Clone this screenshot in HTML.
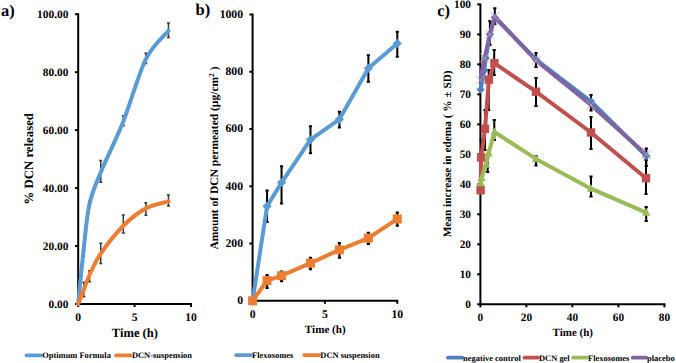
<!DOCTYPE html>
<html><head><meta charset="utf-8"><style>
html,body{margin:0;padding:0;background:#fff;overflow:hidden;}
svg{display:block;}
text{font-family:"Liberation Serif", serif;font-weight:bold;fill:#000;text-rendering:geometricPrecision;}
</style></head><body>
<svg width="676" height="363" viewBox="0 0 676 363">
<path d="M78.2,13.2 V305.0 M78.2,304.0 H192.0" stroke="#000" stroke-width="2" fill="none"/>
<path d="M75.0,304.00 H78.2" stroke="#000" stroke-width="2" fill="none"/>
<text x="68.4" y="307.50" font-size="11.4" text-anchor="end" >0.00</text>
<path d="M75.0,246.04 H78.2" stroke="#000" stroke-width="2" fill="none"/>
<text x="68.4" y="249.54" font-size="11.4" text-anchor="end" >20.00</text>
<path d="M75.0,188.08 H78.2" stroke="#000" stroke-width="2" fill="none"/>
<text x="68.4" y="191.58" font-size="11.4" text-anchor="end" >40.00</text>
<path d="M75.0,130.12 H78.2" stroke="#000" stroke-width="2" fill="none"/>
<text x="68.4" y="133.62" font-size="11.4" text-anchor="end" >60.00</text>
<path d="M75.0,72.16 H78.2" stroke="#000" stroke-width="2" fill="none"/>
<text x="68.4" y="75.66" font-size="11.4" text-anchor="end" >80.00</text>
<path d="M75.0,14.20 H78.2" stroke="#000" stroke-width="2" fill="none"/>
<text x="68.4" y="17.70" font-size="11.4" text-anchor="end" >100.00</text>
<path d="M78.20,304.0 V307.0" stroke="#000" stroke-width="2" fill="none"/>
<text x="78.20" y="321.1" font-size="11.6" text-anchor="middle" >0</text>
<path d="M134.60,304.0 V307.0" stroke="#000" stroke-width="2" fill="none"/>
<text x="134.60" y="321.1" font-size="11.6" text-anchor="middle" >5</text>
<path d="M191.00,304.0 V307.0" stroke="#000" stroke-width="2" fill="none"/>
<text x="191.00" y="321.1" font-size="11.6" text-anchor="middle" >10</text>
<text x="134.9" y="336.7" font-size="12.56" text-anchor="middle" >Time (h)</text>
<text x="0" y="0" font-size="12.8" text-anchor="middle" transform="translate(33,158.8) rotate(-90)">% DCN released</text>
<text x="1.0" y="15.5" font-size="16.5" text-anchor="start" >a)</text>
<path d="M83.84,250.39 V256.18 M82.34,250.39 H85.34 M82.34,256.18 H85.34" stroke="#3a3a3a" stroke-width="1.5" fill="none"/>
<path d="M89.48,201.12 V205.47 M87.98,201.12 H90.98 M87.98,205.47 H90.98" stroke="#3a3a3a" stroke-width="1.5" fill="none"/>
<path d="M100.76,160.55 V182.28 M99.26,160.55 H102.26 M99.26,182.28 H102.26" stroke="#3a3a3a" stroke-width="1.5" fill="none"/>
<path d="M123.32,115.63 V125.77 M121.82,115.63 H124.82 M121.82,125.77 H124.82" stroke="#3a3a3a" stroke-width="1.5" fill="none"/>
<path d="M145.88,53.32 V63.47 M144.38,53.32 H147.38 M144.38,63.47 H147.38" stroke="#3a3a3a" stroke-width="1.5" fill="none"/>
<path d="M168.44,22.89 V37.38 M166.94,22.89 H169.94 M166.94,37.38 H169.94" stroke="#3a3a3a" stroke-width="1.5" fill="none"/>
<path d="M83.84,282.26 V296.75 M82.34,282.26 H85.34 M82.34,296.75 H85.34" stroke="#3a3a3a" stroke-width="1.5" fill="none"/>
<path d="M89.48,270.67 V281.69 M87.98,270.67 H90.98 M87.98,281.69 H90.98" stroke="#3a3a3a" stroke-width="1.5" fill="none"/>
<path d="M100.76,243.14 V263.43 M99.26,243.14 H102.26 M99.26,263.43 H102.26" stroke="#3a3a3a" stroke-width="1.5" fill="none"/>
<path d="M123.32,215.03 V233.00 M121.82,215.03 H124.82 M121.82,233.00 H124.82" stroke="#3a3a3a" stroke-width="1.5" fill="none"/>
<path d="M145.88,202.86 V215.32 M144.38,202.86 H147.38 M144.38,215.32 H147.38" stroke="#3a3a3a" stroke-width="1.5" fill="none"/>
<path d="M168.44,195.04 V206.05 M166.94,195.04 H169.94 M166.94,206.05 H169.94" stroke="#3a3a3a" stroke-width="1.5" fill="none"/>
<path d="M78.20,304.00 C79.14,294.58 81.96,264.15 83.84,247.49 C85.72,230.83 86.66,216.58 89.48,204.02 C92.30,191.46 95.12,185.91 100.76,172.14 C106.40,158.38 115.80,140.26 123.32,121.43 C130.84,102.59 138.36,74.24 145.88,59.12 C153.40,44.00 164.68,35.45 168.44,30.72" stroke="#5B9BD5" stroke-width="4.0" fill="none" stroke-linecap="round" stroke-linejoin="round"/>
<path d="M78.20,304.00 C79.14,301.58 81.96,294.34 83.84,289.51 C85.72,284.68 86.66,281.01 89.48,275.02 C92.30,269.03 95.12,261.79 100.76,253.57 C106.40,245.36 115.80,233.29 123.32,225.75 C130.84,218.22 138.36,212.42 145.88,208.37 C153.40,204.31 164.68,202.57 168.44,201.41" stroke="#ED7D31" stroke-width="4.0" fill="none" stroke-linecap="round" stroke-linejoin="round"/>
<path d="M26.5,355.4 H41" stroke="#5B9BD5" stroke-width="3.8" stroke-linecap="round"/>
<text x="42.2" y="358.2" font-size="8.45" text-anchor="start" >Optimum Formula</text>
<path d="M116.2,355.4 H130.5" stroke="#ED7D31" stroke-width="3.8" stroke-linecap="round"/>
<text x="131.9" y="358.2" font-size="8.45" text-anchor="start" >DCN-suspension</text>
<path d="M252.6,13.5 V301.8 M252.6,300.8 H398.3" stroke="#000" stroke-width="2" fill="none"/>
<path d="M249.4,300.80 H252.6" stroke="#000" stroke-width="2" fill="none"/>
<text x="243.0" y="304.20" font-size="11.7" text-anchor="end" >0</text>
<path d="M249.4,243.54 H252.6" stroke="#000" stroke-width="2" fill="none"/>
<text x="243.0" y="246.94" font-size="11.7" text-anchor="end" >200</text>
<path d="M249.4,186.28 H252.6" stroke="#000" stroke-width="2" fill="none"/>
<text x="243.0" y="189.68" font-size="11.7" text-anchor="end" >400</text>
<path d="M249.4,129.02 H252.6" stroke="#000" stroke-width="2" fill="none"/>
<text x="243.0" y="132.42" font-size="11.7" text-anchor="end" >600</text>
<path d="M249.4,71.76 H252.6" stroke="#000" stroke-width="2" fill="none"/>
<text x="243.0" y="75.16" font-size="11.7" text-anchor="end" >800</text>
<path d="M249.4,14.50 H252.6" stroke="#000" stroke-width="2" fill="none"/>
<text x="243.0" y="17.90" font-size="11.7" text-anchor="end" >1000</text>
<path d="M252.60,300.8 V303.8" stroke="#000" stroke-width="2" fill="none"/>
<text x="252.60" y="317.8" font-size="11.7" text-anchor="middle" >0</text>
<path d="M324.95,300.8 V303.8" stroke="#000" stroke-width="2" fill="none"/>
<text x="324.95" y="317.8" font-size="11.7" text-anchor="middle" >5</text>
<path d="M397.30,300.8 V303.8" stroke="#000" stroke-width="2" fill="none"/>
<text x="397.30" y="317.8" font-size="11.7" text-anchor="middle" >10</text>
<text x="325.25" y="333.2" font-size="11.1" text-anchor="middle" >Time (h)</text>
<text x="0" y="0" font-size="11.5" text-anchor="middle" transform="translate(217.8,158) rotate(-90)">Amount of DCN permeated (µg/cm<tspan font-size="7.5" dy="-4.2">2</tspan><tspan dy="4.2"> )</tspan></text>
<text x="195.6" y="14.8" font-size="16.5" text-anchor="start" >b)</text>
<path d="M267.07,190.57 V222.07 M265.47,190.57 H268.67 M265.47,222.07 H268.67" stroke="#000" stroke-width="2.0" fill="none"/>
<path d="M281.54,166.24 V203.46 M279.94,166.24 H283.14 M279.94,203.46 H283.14" stroke="#000" stroke-width="2.0" fill="none"/>
<path d="M310.48,126.16 V153.36 M308.88,126.16 H312.08 M308.88,153.36 H312.08" stroke="#000" stroke-width="2.0" fill="none"/>
<path d="M339.42,111.84 V127.59 M337.82,111.84 H341.02 M337.82,127.59 H341.02" stroke="#000" stroke-width="2.0" fill="none"/>
<path d="M368.36,55.15 V81.78 M366.76,55.15 H369.96 M366.76,81.78 H369.96" stroke="#000" stroke-width="2.0" fill="none"/>
<path d="M397.30,31.68 V56.87 M395.70,31.68 H398.90 M395.70,56.87 H398.90" stroke="#000" stroke-width="2.0" fill="none"/>
<path d="M267.07,275.03 V287.92 M265.47,275.03 H268.67 M265.47,287.92 H268.67" stroke="#000" stroke-width="2.0" fill="none"/>
<path d="M281.54,271.60 V281.33 M279.94,271.60 H283.14 M279.94,281.33 H283.14" stroke="#000" stroke-width="2.0" fill="none"/>
<path d="M310.48,257.86 V269.31 M308.88,257.86 H312.08 M308.88,269.31 H312.08" stroke="#000" stroke-width="2.0" fill="none"/>
<path d="M339.42,242.97 V257.86 M337.82,242.97 H341.02 M337.82,257.86 H341.02" stroke="#000" stroke-width="2.0" fill="none"/>
<path d="M368.36,232.66 V244.11 M366.76,232.66 H369.96 M366.76,244.11 H369.96" stroke="#000" stroke-width="2.0" fill="none"/>
<path d="M397.30,212.62 V225.79 M395.70,212.62 H398.90 M395.70,225.79 H398.90" stroke="#000" stroke-width="2.0" fill="none"/>
<path d="M252.60,300.80 L267.07,206.32 L281.54,182.56 L310.48,139.61 L339.42,119.29 L368.36,68.32 L397.30,43.42" stroke="#5B9BD5" stroke-width="4.0" fill="none" stroke-linejoin="round"/>
<path d="M252.60,300.80 L267.07,280.62 L281.54,275.69 L310.48,263.12 L339.42,249.84 L368.36,238.10 L397.30,218.92" stroke="#ED7D31" stroke-width="4.0" fill="none" stroke-linejoin="round"/>
<path d="M252.60,296.20 L257.20,300.80 L252.60,305.40 L248.00,300.80Z" fill="#5B9BD5"/>
<path d="M267.07,201.72 L271.67,206.32 L267.07,210.92 L262.47,206.32Z" fill="#5B9BD5"/>
<path d="M281.54,177.96 L286.14,182.56 L281.54,187.16 L276.94,182.56Z" fill="#5B9BD5"/>
<path d="M310.48,135.01 L315.08,139.61 L310.48,144.21 L305.88,139.61Z" fill="#5B9BD5"/>
<path d="M339.42,114.69 L344.02,119.29 L339.42,123.89 L334.82,119.29Z" fill="#5B9BD5"/>
<path d="M368.36,63.72 L372.96,68.32 L368.36,72.92 L363.76,68.32Z" fill="#5B9BD5"/>
<path d="M397.30,38.82 L401.90,43.42 L397.30,48.02 L392.70,43.42Z" fill="#5B9BD5"/>
<rect x="248.10" y="296.30" width="9.0" height="9.0" fill="#ED7D31"/>
<rect x="262.57" y="276.12" width="9.0" height="9.0" fill="#ED7D31"/>
<rect x="277.04" y="271.19" width="9.0" height="9.0" fill="#ED7D31"/>
<rect x="305.98" y="258.62" width="9.0" height="9.0" fill="#ED7D31"/>
<rect x="334.92" y="245.34" width="9.0" height="9.0" fill="#ED7D31"/>
<rect x="363.86" y="233.60" width="9.0" height="9.0" fill="#ED7D31"/>
<rect x="392.80" y="214.42" width="9.0" height="9.0" fill="#ED7D31"/>
<path d="M236,355.1 H251" stroke="#5B9BD5" stroke-width="3.8" stroke-linecap="round"/>
<text x="252.0" y="357.9" font-size="8.45" text-anchor="start" >Flexosomes</text>
<path d="M304.3,355.1 H319.2" stroke="#ED7D31" stroke-width="3.8" stroke-linecap="round"/>
<text x="320.3" y="357.9" font-size="8.45" text-anchor="start" >DCN suspension</text>
<path d="M480.4,3.4000000000000004 V305.3 M480.4,304.3 H665.4" stroke="#000" stroke-width="2" fill="none"/>
<path d="M477.2,304.30 H480.4" stroke="#000" stroke-width="2" fill="none"/>
<text x="471.0" y="308.10" font-size="11.3" text-anchor="end" >0</text>
<path d="M477.2,274.31 H480.4" stroke="#000" stroke-width="2" fill="none"/>
<text x="471.0" y="278.11" font-size="11.3" text-anchor="end" >10</text>
<path d="M477.2,244.32 H480.4" stroke="#000" stroke-width="2" fill="none"/>
<text x="471.0" y="248.12" font-size="11.3" text-anchor="end" >20</text>
<path d="M477.2,214.33 H480.4" stroke="#000" stroke-width="2" fill="none"/>
<text x="471.0" y="218.13" font-size="11.3" text-anchor="end" >30</text>
<path d="M477.2,184.34 H480.4" stroke="#000" stroke-width="2" fill="none"/>
<text x="471.0" y="188.14" font-size="11.3" text-anchor="end" >40</text>
<path d="M477.2,154.35 H480.4" stroke="#000" stroke-width="2" fill="none"/>
<text x="471.0" y="158.15" font-size="11.3" text-anchor="end" >50</text>
<path d="M477.2,124.36 H480.4" stroke="#000" stroke-width="2" fill="none"/>
<text x="471.0" y="128.16" font-size="11.3" text-anchor="end" >60</text>
<path d="M477.2,94.37 H480.4" stroke="#000" stroke-width="2" fill="none"/>
<text x="471.0" y="98.17" font-size="11.3" text-anchor="end" >70</text>
<path d="M477.2,64.38 H480.4" stroke="#000" stroke-width="2" fill="none"/>
<text x="471.0" y="68.18" font-size="11.3" text-anchor="end" >80</text>
<path d="M477.2,34.39 H480.4" stroke="#000" stroke-width="2" fill="none"/>
<text x="471.0" y="38.19" font-size="11.3" text-anchor="end" >90</text>
<path d="M477.2,4.40 H480.4" stroke="#000" stroke-width="2" fill="none"/>
<text x="471.0" y="8.20" font-size="11.3" text-anchor="end" >100</text>
<path d="M480.40,304.3 V307.3" stroke="#000" stroke-width="2" fill="none"/>
<text x="480.40" y="321.2" font-size="11.3" text-anchor="middle" >0</text>
<path d="M526.40,304.3 V307.3" stroke="#000" stroke-width="2" fill="none"/>
<text x="526.40" y="321.2" font-size="11.3" text-anchor="middle" >20</text>
<path d="M572.40,304.3 V307.3" stroke="#000" stroke-width="2" fill="none"/>
<text x="572.40" y="321.2" font-size="11.3" text-anchor="middle" >40</text>
<path d="M618.40,304.3 V307.3" stroke="#000" stroke-width="2" fill="none"/>
<text x="618.40" y="321.2" font-size="11.3" text-anchor="middle" >60</text>
<path d="M664.40,304.3 V307.3" stroke="#000" stroke-width="2" fill="none"/>
<text x="664.40" y="321.2" font-size="11.3" text-anchor="middle" >80</text>
<text x="572.8" y="336.3" font-size="11.0" text-anchor="middle" >Time (h)</text>
<text x="0" y="0" font-size="11.3" text-anchor="middle" transform="translate(450.6,153.9) rotate(-90)">Mean increase in edema ( % ± SD)</text>
<text x="437.3" y="15.5" font-size="16.5" text-anchor="start" >c)</text>
<path d="M494.80,8.30 V24.00 M493.20,8.30 H496.40 M493.20,24.00 H496.40" stroke="#000" stroke-width="2.0" fill="none"/>
<path d="M489.90,21.00 V45.00 M488.30,21.00 H491.50 M488.30,45.00 H491.50" stroke="#000" stroke-width="2.0" fill="none"/>
<path d="M488.70,70.00 V110.00 M487.10,70.00 H490.30 M487.10,110.00 H490.30" stroke="#000" stroke-width="2.0" fill="none"/>
<path d="M494.20,50.00 V75.00 M492.60,50.00 H495.80 M492.60,75.00 H495.80" stroke="#000" stroke-width="2.0" fill="none"/>
<path d="M485.00,110.00 V150.00 M483.40,110.00 H486.60 M483.40,150.00 H486.60" stroke="#000" stroke-width="2.0" fill="none"/>
<path d="M481.20,140.00 V175.00 M479.60,140.00 H482.80 M479.60,175.00 H482.80" stroke="#000" stroke-width="2.0" fill="none"/>
<path d="M536.00,53.00 V67.00 M534.40,53.00 H537.60 M534.40,67.00 H537.60" stroke="#000" stroke-width="2.0" fill="none"/>
<path d="M536.00,78.00 V106.00 M534.40,78.00 H537.60 M534.40,106.00 H537.60" stroke="#000" stroke-width="2.0" fill="none"/>
<path d="M536.00,156.00 V165.50 M534.40,156.00 H537.60 M534.40,165.50 H537.60" stroke="#000" stroke-width="2.0" fill="none"/>
<path d="M591.00,95.00 V110.50 M589.40,95.00 H592.60 M589.40,110.50 H592.60" stroke="#000" stroke-width="2.0" fill="none"/>
<path d="M591.00,117.00 V149.00 M589.40,117.00 H592.60 M589.40,149.00 H592.60" stroke="#000" stroke-width="2.0" fill="none"/>
<path d="M591.00,176.60 V196.40 M589.40,176.60 H592.60 M589.40,196.40 H592.60" stroke="#000" stroke-width="2.0" fill="none"/>
<path d="M646.30,148.50 V166.00 M644.70,148.50 H647.90 M644.70,166.00 H647.90" stroke="#000" stroke-width="2.0" fill="none"/>
<path d="M646.00,160.00 V194.00 M644.40,160.00 H647.60 M644.40,194.00 H647.60" stroke="#000" stroke-width="2.0" fill="none"/>
<path d="M646.20,207.00 V221.00 M644.60,207.00 H647.80 M644.60,221.00 H647.80" stroke="#000" stroke-width="2.0" fill="none"/>
<path d="M494.30,120.00 V140.00 M492.70,120.00 H495.90 M492.70,140.00 H495.90" stroke="#000" stroke-width="2.0" fill="none"/>
<path d="M487.70,155.00 V172.00 M486.10,155.00 H489.30 M486.10,172.00 H489.30" stroke="#000" stroke-width="2.0" fill="none"/>
<path d="M480.60,89.60 L484.20,70.60 L485.80,58.00 L489.90,34.30 L494.80,17.50 L536.00,59.50 L591.00,101.50 L646.30,156.00" stroke="#4F81BD" stroke-width="4.0" fill="none" stroke-linejoin="round"/>
<path d="M480.60,85.40 L484.80,89.60 L480.60,93.80 L476.40,89.60Z" fill="#4F81BD"/>
<path d="M484.20,66.40 L488.40,70.60 L484.20,74.80 L480.00,70.60Z" fill="#4F81BD"/>
<path d="M485.80,53.80 L490.00,58.00 L485.80,62.20 L481.60,58.00Z" fill="#4F81BD"/>
<path d="M489.90,30.10 L494.10,34.30 L489.90,38.50 L485.70,34.30Z" fill="#4F81BD"/>
<path d="M494.80,13.30 L499.00,17.50 L494.80,21.70 L490.60,17.50Z" fill="#4F81BD"/>
<path d="M536.00,55.30 L540.20,59.50 L536.00,63.70 L531.80,59.50Z" fill="#4F81BD"/>
<path d="M591.00,97.30 L595.20,101.50 L591.00,105.70 L586.80,101.50Z" fill="#4F81BD"/>
<path d="M646.30,151.80 L650.50,156.00 L646.30,160.20 L642.10,156.00Z" fill="#4F81BD"/>
<path d="M480.60,190.20 L481.20,157.50 L485.00,128.80 L488.90,79.70 L494.40,63.20 L536.00,91.70 L591.00,132.50 L646.00,178.20" stroke="#C0504D" stroke-width="4.0" fill="none" stroke-linejoin="round"/>
<rect x="476.40" y="186.00" width="8.4" height="8.4" fill="#C0504D"/>
<rect x="477.00" y="153.30" width="8.4" height="8.4" fill="#C0504D"/>
<rect x="480.80" y="124.60" width="8.4" height="8.4" fill="#C0504D"/>
<rect x="484.70" y="75.50" width="8.4" height="8.4" fill="#C0504D"/>
<rect x="490.20" y="59.00" width="8.4" height="8.4" fill="#C0504D"/>
<rect x="531.80" y="87.50" width="8.4" height="8.4" fill="#C0504D"/>
<rect x="586.80" y="128.30" width="8.4" height="8.4" fill="#C0504D"/>
<rect x="641.80" y="174.00" width="8.4" height="8.4" fill="#C0504D"/>
<path d="M480.60,183.00 L481.60,178.00 L486.10,164.50 L488.60,153.40 L494.50,132.00 L536.00,158.90 L591.00,188.70 L646.20,212.70" stroke="#9BBB59" stroke-width="4.0" fill="none" stroke-linejoin="round"/>
<path d="M480.60,178.38 L484.80,186.15 L476.40,186.15Z" fill="#9BBB59"/>
<path d="M481.60,173.38 L485.80,181.15 L477.40,181.15Z" fill="#9BBB59"/>
<path d="M486.10,159.88 L490.30,167.65 L481.90,167.65Z" fill="#9BBB59"/>
<path d="M488.60,148.78 L492.80,156.55 L484.40,156.55Z" fill="#9BBB59"/>
<path d="M494.50,127.38 L498.70,135.15 L490.30,135.15Z" fill="#9BBB59"/>
<path d="M536.00,154.28 L540.20,162.05 L531.80,162.05Z" fill="#9BBB59"/>
<path d="M591.00,184.08 L595.20,191.85 L586.80,191.85Z" fill="#9BBB59"/>
<path d="M646.20,208.08 L650.40,215.85 L642.00,215.85Z" fill="#9BBB59"/>
<path d="M480.40,80.00 L484.60,58.00 L489.90,34.50 L494.80,16.50 L536.00,60.50 L591.00,105.00 L646.30,154.50" stroke="#8064A2" stroke-width="4.0" fill="none" stroke-linejoin="round"/>
<path d="M475.90,75.50 L484.90,84.50 M484.90,75.50 L475.90,84.50" stroke="#B3A2C7" stroke-width="0.9"/>
<path d="M480.10,53.50 L489.10,62.50 M489.10,53.50 L480.10,62.50" stroke="#B3A2C7" stroke-width="0.9"/>
<path d="M485.40,30.00 L494.40,39.00 M494.40,30.00 L485.40,39.00" stroke="#B3A2C7" stroke-width="0.9"/>
<path d="M490.30,12.00 L499.30,21.00 M499.30,12.00 L490.30,21.00" stroke="#B3A2C7" stroke-width="0.9"/>
<path d="M531.50,56.00 L540.50,65.00 M540.50,56.00 L531.50,65.00" stroke="#B3A2C7" stroke-width="0.9"/>
<path d="M586.50,100.50 L595.50,109.50 M595.50,100.50 L586.50,109.50" stroke="#B3A2C7" stroke-width="0.9"/>
<path d="M641.80,150.00 L650.80,159.00 M650.80,150.00 L641.80,159.00" stroke="#B3A2C7" stroke-width="0.9"/>
<path d="M448,357.7 H462" stroke="#4F81BD" stroke-width="3.8" stroke-linecap="round"/>
<text x="463.0" y="360.5" font-size="8.45" text-anchor="start" >negative control</text>
<path d="M524.5,357.7 H538" stroke="#C0504D" stroke-width="3.8" stroke-linecap="round"/>
<text x="539.0" y="360.5" font-size="8.45" text-anchor="start" >DCN gel</text>
<path d="M573,357.7 H587" stroke="#9BBB59" stroke-width="3.8" stroke-linecap="round"/>
<text x="588.0" y="360.5" font-size="8.45" text-anchor="start" >Flexosomes</text>
<path d="M632.8,357.7 H646" stroke="#8064A2" stroke-width="3.8" stroke-linecap="round"/>
<text x="647.0" y="360.5" font-size="8.45" text-anchor="start" >placebo</text>
</svg>
</body></html>
